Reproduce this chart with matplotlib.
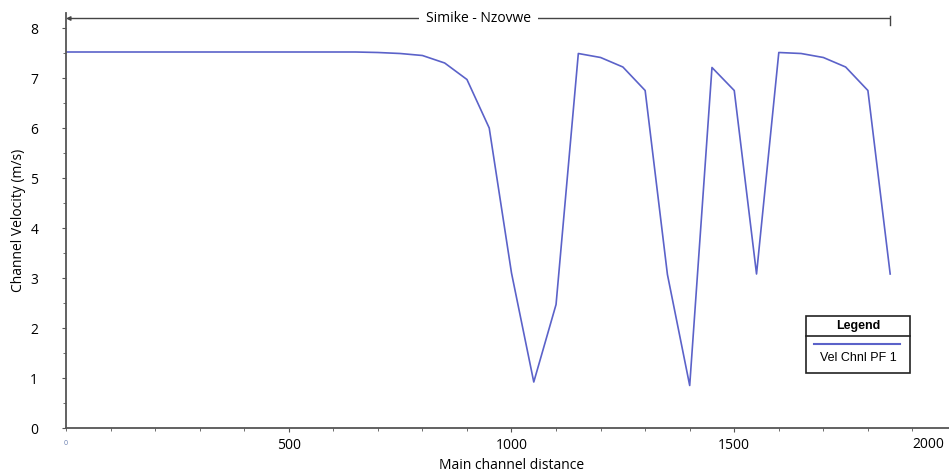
import numpy as np
import matplotlib.pyplot as plt
from matplotlib.patches import Rectangle
from matplotlib.lines import Line2D
from matplotlib.ticker import MultipleLocator

# --- data ---
distance = [0, 100, 200, 300, 400, 500, 600, 650, 700, 750, 800, 850, 900, 950,
            1000, 1050, 1100, 1150, 1200, 1250, 1300, 1350, 1400, 1450, 1500,
            1550, 1600, 1650, 1700, 1750, 1800, 1850]
velocity = [7.52, 7.52, 7.52, 7.52, 7.52, 7.52, 7.52, 7.52, 7.51, 7.49, 7.45, 7.3, 6.97, 6.0,
            3.1, 0.92, 2.47, 7.49, 7.41, 7.22, 6.75, 3.07, 0.85, 7.21, 6.75,
            3.08, 7.51, 7.49, 7.41, 7.22, 6.75, 3.08]
x_ticks = [500, 1000, 1500, 2000]
x_ticklabels = ["500", "1000", "1500", "2000"]
reach_name = "Simike - Nzovwe"
reach_start, reach_end = 0, 1850
series_name = "Vel Chnl PF 1"

line_col = "#5b62c9"
W, H = 949, 473

plt.rcParams["font.family"] = ["Open Sans", "DejaVu Sans"]

fig = plt.figure(figsize=(W / 100, H / 100), dpi=100)
ax = fig.add_axes([66 / W, 45 / H, 891 / W, 415 / H])

ax.plot(distance, velocity, color=line_col, lw=1.2)

ax.set_xlim(0, 2000)
ax.set_ylim(0, 8.3)
ax.xaxis.set_minor_locator(MultipleLocator(100))
ax.yaxis.set_major_locator(MultipleLocator(1))
ax.yaxis.set_minor_locator(MultipleLocator(0.5))
ax.set_xticks(x_ticks, x_ticklabels[:-1] + [""])
# last label sits against the right edge, as in the source image
ax.text(1972, -0.33, x_ticklabels[-1], ha="right", va="center", fontsize=10)
ax.tick_params(which="both", direction="out", color="#555555", labelsize=10)
ax.tick_params(which="major", length=3, pad=4)
ax.tick_params(which="minor", length=2)
ax.tick_params(axis="y", pad=17)
ax.text(0, -0.3, "0", fontsize=5, color="#6a7fb0", ha="center", va="center")

for s in ["top", "right"]:
    ax.spines[s].set_visible(False)
for s in ["left", "bottom"]:
    ax.spines[s].set_color("#555555")
    ax.spines[s].set_linewidth(1.3)

ax.set_xlabel("Main channel distance", fontsize=10, labelpad=4)
ax.set_ylabel("Channel Velocity (m/s)", fontsize=10, labelpad=3)

# reach marker at the top
ax.annotate("", xy=(reach_start, 8.19), xytext=(reach_end, 8.19),
            arrowprops=dict(arrowstyle="-|>", color="#444444", lw=1.0,
                            mutation_scale=6, shrinkA=0, shrinkB=0))
ax.plot([reach_end, reach_end], [8.24, 8.07], color="#444444", lw=1.0)
ax.text((reach_start + reach_end) / 2, 8.19, reach_name, ha="center", va="center",
        fontsize=10, bbox=dict(facecolor="white", edgecolor="none", pad=5))

# legend box, drawn in figure pixels
def fx(px):
    return px / W

def fy(py):
    return 1 - py / H

fig.patches.append(Rectangle((fx(806), fy(373)), fx(910) - fx(806), fy(316) - fy(373),
                             transform=fig.transFigure, facecolor="white",
                             edgecolor="#222222", lw=1.2))
fig.lines.append(Line2D([fx(806), fx(910)], [fy(336), fy(336)],
                        transform=fig.transFigure, color="#222222", lw=1.2))
fig.lines.append(Line2D([fx(814), fx(900)], [fy(344), fy(344)],
                        transform=fig.transFigure, color=line_col, lw=1.5))
fig.text(fx(858), fy(326), "Legend", ha="center", va="center", fontsize=9,
         fontweight="bold", family=["Liberation Sans"])
fig.text(fx(858), fy(358), series_name, ha="center", va="center", fontsize=9,
         family=["Liberation Sans"])

fig.savefig("out.png", dpi=100)
